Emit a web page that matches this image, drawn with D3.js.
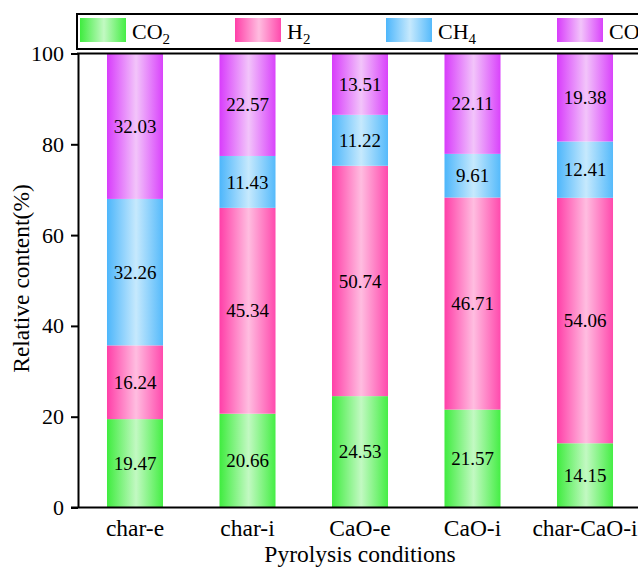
<!DOCTYPE html>
<html>
<head>
<meta charset="utf-8">
<script src="https://cdn.jsdelivr.net/npm/d3@7"></script>
<style>
  html, body { margin: 0; padding: 0; background: #fff; }
  svg { display: block; }
  text { font-family: "Liberation Serif", "Times New Roman", serif; fill: #000; }
</style>
</head>
<body>
<svg id="chart" width="638" height="568"></svg>
<script>
// Gas composition of pyrolysis products (%)
const conditions = ["char-e", "char-i", "CaO-e", "CaO-i", "char-CaO-i"];
const gases = ["CO2", "H2", "CH4", "CO"];
const co2 = [19.47, 20.66, 24.53, 21.57, 14.15];
const h2  = [16.24, 45.34, 50.74, 46.71, 54.06];
const ch4 = [32.26, 11.43, 11.22, 9.61, 12.41];
const co  = [32.03, 22.57, 13.51, 22.11, 19.38];
const yTicks = [0, 20, 40, 60, 80, 100];

const seriesValues = { CO2: co2, H2: h2, CH4: ch4, CO: co };
const legendLabels = { CO2: ["CO", "2"], H2: ["H", "2"], CH4: ["CH", "4"], CO: ["CO", ""] };
const gradStops = {
  CO2: ["#3fec3f", "#c2f9c2", "#45ee45"],
  H2:  ["#ff3fa8", "#ffbde0", "#ff4aad"],
  CH4: ["#4db6fb", "#c6e9fd", "#55bafb"],
  CO:  ["#d83cfb", "#f2c4fa", "#d943fb"]
};

const svg = d3.select("#chart");
const W = 638, H = 568;
const m = { left: 78, top: 53.5, bottom: 507.5 };

const table = conditions.map((c, i) => {
  const row = { condition: c };
  gases.forEach(g => row[g] = seriesValues[g][i]);
  return row;
});
const stacked = d3.stack().keys(gases)(table);

const x = d3.scaleBand().domain(conditions)
  .range([m.left + 0.75, m.left + 0.75 + 562.5]).paddingInner(0.502).paddingOuter(0.251);
const y = d3.scaleLinear().domain([0, 100]).range([m.bottom, m.top]);

// horizontal gradients: saturated edges, light centre
const defs = svg.append("defs");
gases.forEach(g => {
  const lg = defs.append("linearGradient").attr("id", "grad-" + g)
    .attr("x1", "0%").attr("x2", "100%").attr("y1", "0%").attr("y2", "0%");
  lg.append("stop").attr("offset", "0%").attr("stop-color", gradStops[g][0]);
  lg.append("stop").attr("offset", "52%").attr("stop-color", gradStops[g][1]);
  lg.append("stop").attr("offset", "100%").attr("stop-color", gradStops[g][2]);
});

// bars
const layers = svg.append("g").selectAll("g").data(stacked).join("g")
  .attr("fill", d => `url(#grad-${d.key})`);
layers.selectAll("rect").data(d => d).join("rect")
  .attr("x", d => x(d.data.condition))
  .attr("width", x.bandwidth())
  .attr("y", d => y(d[1]))
  .attr("height", d => y(d[0]) - y(d[1]));

// value labels
const labels = svg.append("g").attr("font-size", 19).attr("text-anchor", "middle");
stacked.forEach(layer => {
  layer.forEach(d => {
    labels.append("text")
      .attr("x", x(d.data.condition) + x.bandwidth() / 2)
      .attr("y", (y(d[0]) + y(d[1])) / 2)
      .attr("dy", "0.35em")
      .text(d3.format(".2f")(d[1] - d[0]));
  });
});

// axes
const yAxis = svg.append("g").attr("transform", `translate(${m.left},0)`)
  .call(d3.axisLeft(y).tickValues(yTicks).tickSize(7).tickPadding(7).tickSizeOuter(0));
yAxis.selectAll("path, line").attr("stroke", "#000").attr("stroke-width", 2);
yAxis.selectAll("text").attr("font-size", 22).attr("font-family", "Liberation Serif");

const xAxis = svg.append("g").attr("transform", `translate(0,${m.bottom})`)
  .call(d3.axisBottom(x).tickSize(0).tickPadding(12));
xAxis.select(".domain").attr("d", `M${m.left - 7},0H${W}`).attr("stroke", "#000").attr("stroke-width", 2);
xAxis.selectAll("text").attr("font-size", 23.5).attr("font-family", "Liberation Serif");

// top frame line
svg.append("line").attr("x1", m.left - 1).attr("x2", W).attr("y1", m.top).attr("y2", m.top)
  .attr("stroke", "#000").attr("stroke-width", 2);

// axis titles
svg.append("text").attr("x", 360).attr("y", 562)
  .attr("text-anchor", "middle").attr("font-size", 23.5).text("Pyrolysis conditions");
svg.append("text").attr("transform", `translate(28.5,${(m.top + m.bottom) / 2 - 2}) rotate(-90)`)
  .attr("text-anchor", "middle").attr("font-size", 23.5).text("Relative content(%)");

// legend
const lg = svg.append("g");
lg.append("rect").attr("x", 77).attr("y", 14).attr("width", 600).attr("height", 35)
  .attr("fill", "#fff").attr("stroke", "#000").attr("stroke-width", 2);
const legendX = [80, 235, 386, 557];
gases.forEach((g, i) => {
  lg.append("rect").attr("x", legendX[i]).attr("y", 18).attr("width", 46).attr("height", 24)
    .attr("fill", `url(#grad-${g})`);
  const t = lg.append("text").attr("x", legendX[i] + 52).attr("y", 39).attr("font-size", 22);
  t.append("tspan").text(legendLabels[g][0]);
  if (legendLabels[g][1]) {
    t.append("tspan").attr("font-size", 15).attr("dy", 5).text(legendLabels[g][1]);
  }
});
</script>
</body>
</html>
